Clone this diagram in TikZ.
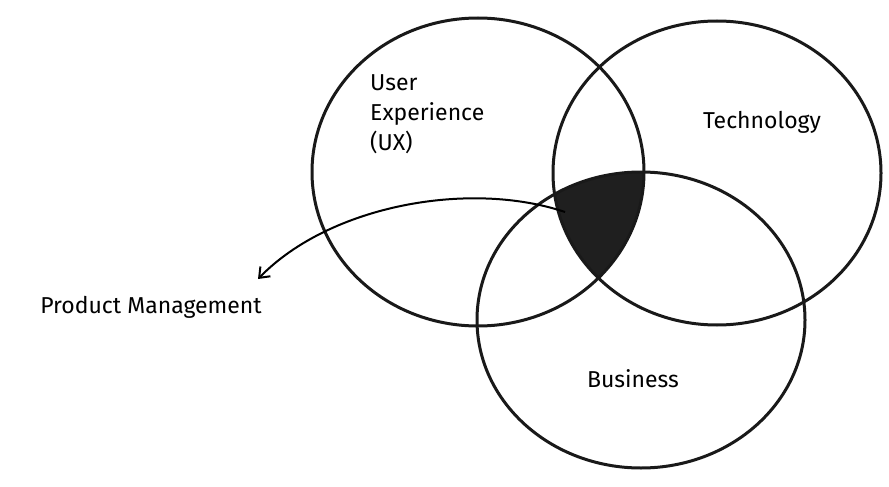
\documentclass[tikz,border=0pt]{standalone}
\usepackage{fontspec}
\setmainfont{Fira Sans}
\usetikzlibrary{arrows.meta}
\tikzset{ring/.style={draw=black!90,line width=3pt},
lbl/.style={font=\fontsize{23}{30}\selectfont,align=left}}
\begin{document}
\begin{tikzpicture}[x=1pt,y=-1pt]
\useasboundingbox (0,0) rectangle (889,487);
\begin{scope}
\clip (478,172) ellipse [x radius=166, y radius=154];
\clip (717,173) ellipse [x radius=164, y radius=152];
\fill[black!88] (641,320) ellipse [x radius=164, y radius=148];
\end{scope}
\draw[ring] (478,172) ellipse [x radius=166, y radius=154];
\draw[ring] (717,173) ellipse [x radius=164, y radius=152];
\draw[ring] (641,320) ellipse [x radius=164, y radius=148];
\coordinate (s) at (565,212);
\node[lbl,anchor=north west,inner sep=0pt] (ux) at (370,74) {User\\Experience\\(UX)};
\node[lbl] (tech) at (762,122) {Technology};
\node[lbl] (bus) at (633,379) {Business};
\node[lbl] (pm) at (151,307) {Product Management};
\draw[line width=2pt,-{Straight Barb[length=9pt,width=14pt]}] (s) .. controls (470,180) and (330,205) .. (258,279);
\end{tikzpicture}
\end{document}
